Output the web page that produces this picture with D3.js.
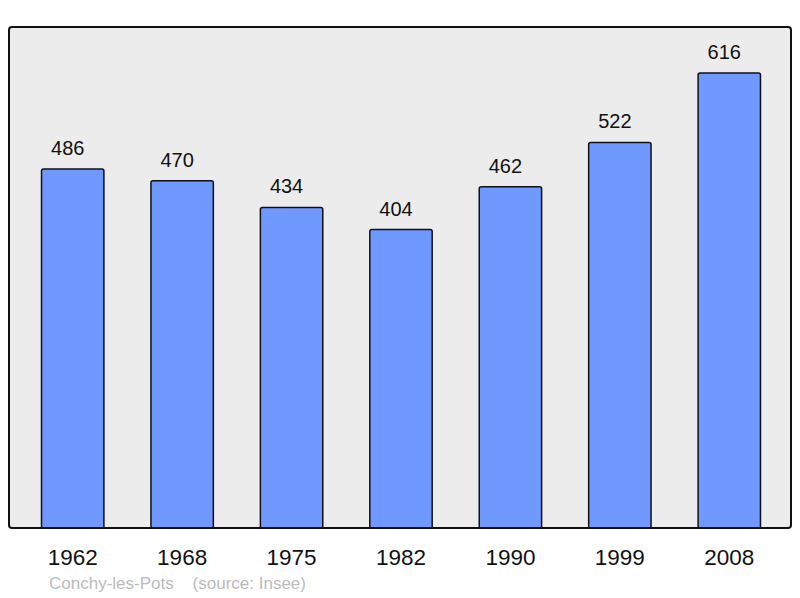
<!DOCTYPE html>
<html>
<head>
<meta charset="utf-8">
<script src="https://cdn.jsdelivr.net/npm/d3@7"></script>
<style>
  html, body { margin: 0; padding: 0; background: #fff; }
  svg { display: block; font-family: "Liberation Sans", Arial, sans-serif; }
</style>
</head>
<body>
<svg id="chart" width="800" height="598"></svg>
<script>
var years = ["1962", "1968", "1975", "1982", "1990", "1999", "2008"];
var population = [486, 470, 434, 404, 462, 522, 616];
var placeName = "Conchy-les-Pots";
var sourceNote = "(source: Insee)";

var svg = d3.select("#chart");

// clip bars to the panel so their bottoms hide under the frame
svg.append("defs").append("clipPath")
  .attr("id", "panel-clip")
  .append("rect")
  .attr("x", 9).attr("y", 0)
  .attr("width", 782).attr("height", 528);

// panel background
svg.append("rect")
  .attr("x", 9).attr("y", 27)
  .attr("width", 782).attr("height", 501)
  .attr("rx", 3).attr("ry", 3)
  .attr("fill", "#ececec");

var x = d3.scaleBand()
  .domain(years)
  .range([18, 784])
  .paddingInner(0.43)
  .paddingOuter(0.215);

var y = d3.scaleLinear()
  .domain([0, 616])
  .range([528, 73]);

var data = years.map(function (yr, i) { return { year: yr, value: population[i] }; });

svg.append("g")
  .attr("clip-path", "url(#panel-clip)")
  .selectAll(".bar")
  .data(data)
  .enter()
  .append("rect")
  .attr("class", "bar")
  .attr("x", function (d) { return x(d.year); })
  .attr("y", function (d) { return y(d.value); })
  .attr("width", x.bandwidth())
  .attr("height", function (d) { return y(0) - y(d.value) + 6; })
  .attr("rx", 2)
  .attr("fill", "#7099ff")
  .attr("stroke", "#111")
  .attr("stroke-width", 1.5);

// panel frame on top
svg.append("rect")
  .attr("x", 9).attr("y", 27)
  .attr("width", 782).attr("height", 501)
  .attr("rx", 3).attr("ry", 3)
  .attr("fill", "none")
  .attr("stroke", "#111")
  .attr("stroke-width", 2);

svg.selectAll(".val")
  .data(data)
  .enter()
  .append("text")
  .attr("class", "val")
  .attr("x", function (d) { return x(d.year) + x.bandwidth() / 2 - 5; })
  .attr("y", function (d) { return y(d.value) - 14; })
  .attr("text-anchor", "middle")
  .attr("font-size", 20)
  .attr("fill", "#111")
  .text(function (d) { return d.value; });

svg.selectAll(".yr")
  .data(years)
  .enter()
  .append("text")
  .attr("class", "yr")
  .attr("x", function (d) { return x(d) + x.bandwidth() / 2; })
  .attr("y", 565)
  .attr("text-anchor", "middle")
  .attr("font-size", 22.5)
  .attr("fill", "#111")
  .text(function (d) { return d; });

svg.append("text")
  .attr("x", 49).attr("y", 589)
  .attr("font-size", 17)
  .attr("fill", "#bbbbbb")
  .attr("xml:space", "preserve")
  .text(placeName + "    " + sourceNote);
</script>
</body>
</html>
